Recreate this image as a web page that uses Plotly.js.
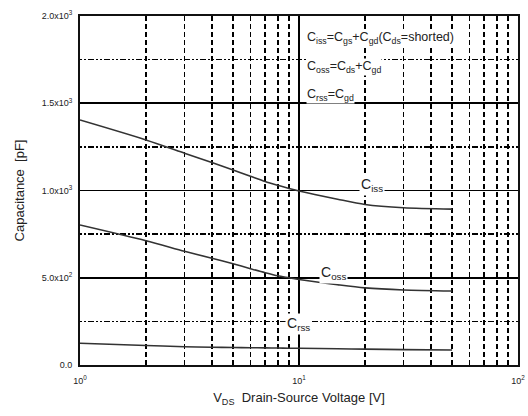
<!DOCTYPE html>
<html><head><meta charset="utf-8">
<script src="https://cdn.plot.ly/plotly-3.0.1.min.js"></script>
<style>body{margin:0;background:#fff}#c{width:528px;height:416px}</style>
</head><body><div id="c"></div>
<script>
const vds = [1, 2, 3, 4, 5, 6, 7, 8, 9, 10, 15, 20, 30, 50];
const ciss = [1404, 1290, 1214, 1160, 1118, 1082, 1052, 1030, 1012, 997, 950, 920, 901, 893];
const coss = [802, 712, 652, 612, 580, 552, 529, 511, 500, 490, 460, 442, 430, 424];
const crss = [125, 112, 105, 102, 100, 99, 98, 97, 96, 96, 93, 91, 88, 86];
const yTickVals = [0, 500, 1000, 1500, 2000];
const yTickText = ['0.0', '5.0x10<sup>2</sup>', '1.0x10<sup>3</sup>', '1.5x10<sup>3</sup>', '2.0x10<sup>3</sup>'];
const xTickVals = [1, 10, 100];
const xTickText = ['10<sup>0</sup>', '10<sup>1</sup>', '10<sup>2</sup>'];

const lineStyle = {color: '#333', width: 1.6, shape: 'spline', smoothing: 0.8};
const traces = [ciss, coss, crss].map(y => ({
  x: vds, y: y, mode: 'lines', line: lineStyle, showlegend: false, hoverinfo: 'none'
}));

const F = 'Liberation Sans, Arial, sans-serif';
const layout = {
  width: 528, height: 416,
  margin: {l: 80, r: 10, t: 16, b: 51},
  paper_bgcolor: '#fff', plot_bgcolor: '#fff',
  font: {family: F, color: '#222', size: 10},
  xaxis: {
    type: 'log', range: [0, 2],
    tickvals: xTickVals, ticktext: xTickText,
    showgrid: true, gridcolor: '#000', gridwidth: 1.6,
    showline: true, linecolor: '#111', linewidth: 2, mirror: true,
    ticks: '', ticklabelstandoff: 6,
    tickfont: {size: 9, family: F},
    minor: {dtick: 'D1', showgrid: true, gridcolor: '#000', gridwidth: 1.5, griddash: '5px,3px', ticks: ''},
    zeroline: false,
    title: {text: 'V<sub>DS</sub>  Drain-Source Voltage [V]', font: {size: 13, family: F}, standoff: 8}
  },
  yaxis: {
    range: [0, 2000],
    tickvals: yTickVals, ticktext: yTickText,
    showgrid: true, gridcolor: '#000', gridwidth: 1.6,
    showline: true, linecolor: '#111', linewidth: 2, mirror: true,
    ticks: '', ticklabelstandoff: 4,
    tickfont: {size: 9, family: F},
    minor: {dtick: 250, showgrid: true, gridcolor: '#000', gridwidth: 1.5, griddash: '2px,2px,2px,2px,6px,2px', ticks: ''},
    zeroline: false,
    title: {text: 'Capacitance  [pF]', font: {size: 13, family: F}, standoff: 14}
  },
  annotations: [
    {x: Math.log10(21.5), y: 1031, xref: 'x', yref: 'y', text: 'C<sub>iss</sub>', showarrow: false, font: {size: 14, family: F}, bgcolor: '#fff'},
    {x: Math.log10(14.3), y: 527, xref: 'x', yref: 'y', text: 'C<sub>oss</sub>', showarrow: false, font: {size: 14, family: F}, bgcolor: '#fff'},
    {x: Math.log10(9.9), y: 235, xref: 'x', yref: 'y', text: 'C<sub>rss</sub>', showarrow: false, font: {size: 14, family: F}, bgcolor: '#fff'},
    {x: 0.515, y: 0.962, xref: 'paper', yref: 'paper', xanchor: 'left', text: 'C<sub>iss</sub>=C<sub>gs</sub>+C<sub>gd</sub>(C<sub>ds</sub>=shorted)', showarrow: false, font: {size: 12.5, family: F}, bgcolor: '#fff', borderpad: 0},
    {x: 0.515, y: 0.879, xref: 'paper', yref: 'paper', xanchor: 'left', text: 'C<sub>oss</sub>=C<sub>ds</sub>+C<sub>gd</sub>', showarrow: false, font: {size: 12.5, family: F}, bgcolor: '#fff', borderpad: 0},
    {x: 0.515, y: 0.80, xref: 'paper', yref: 'paper', xanchor: 'left', text: 'C<sub>rss</sub>=C<sub>gd</sub>', showarrow: false, font: {size: 12.5, family: F}, bgcolor: '#fff', borderpad: 0}
  ]
};
Plotly.newPlot('c', traces, layout, {staticPlot: true});
</script></body></html>
